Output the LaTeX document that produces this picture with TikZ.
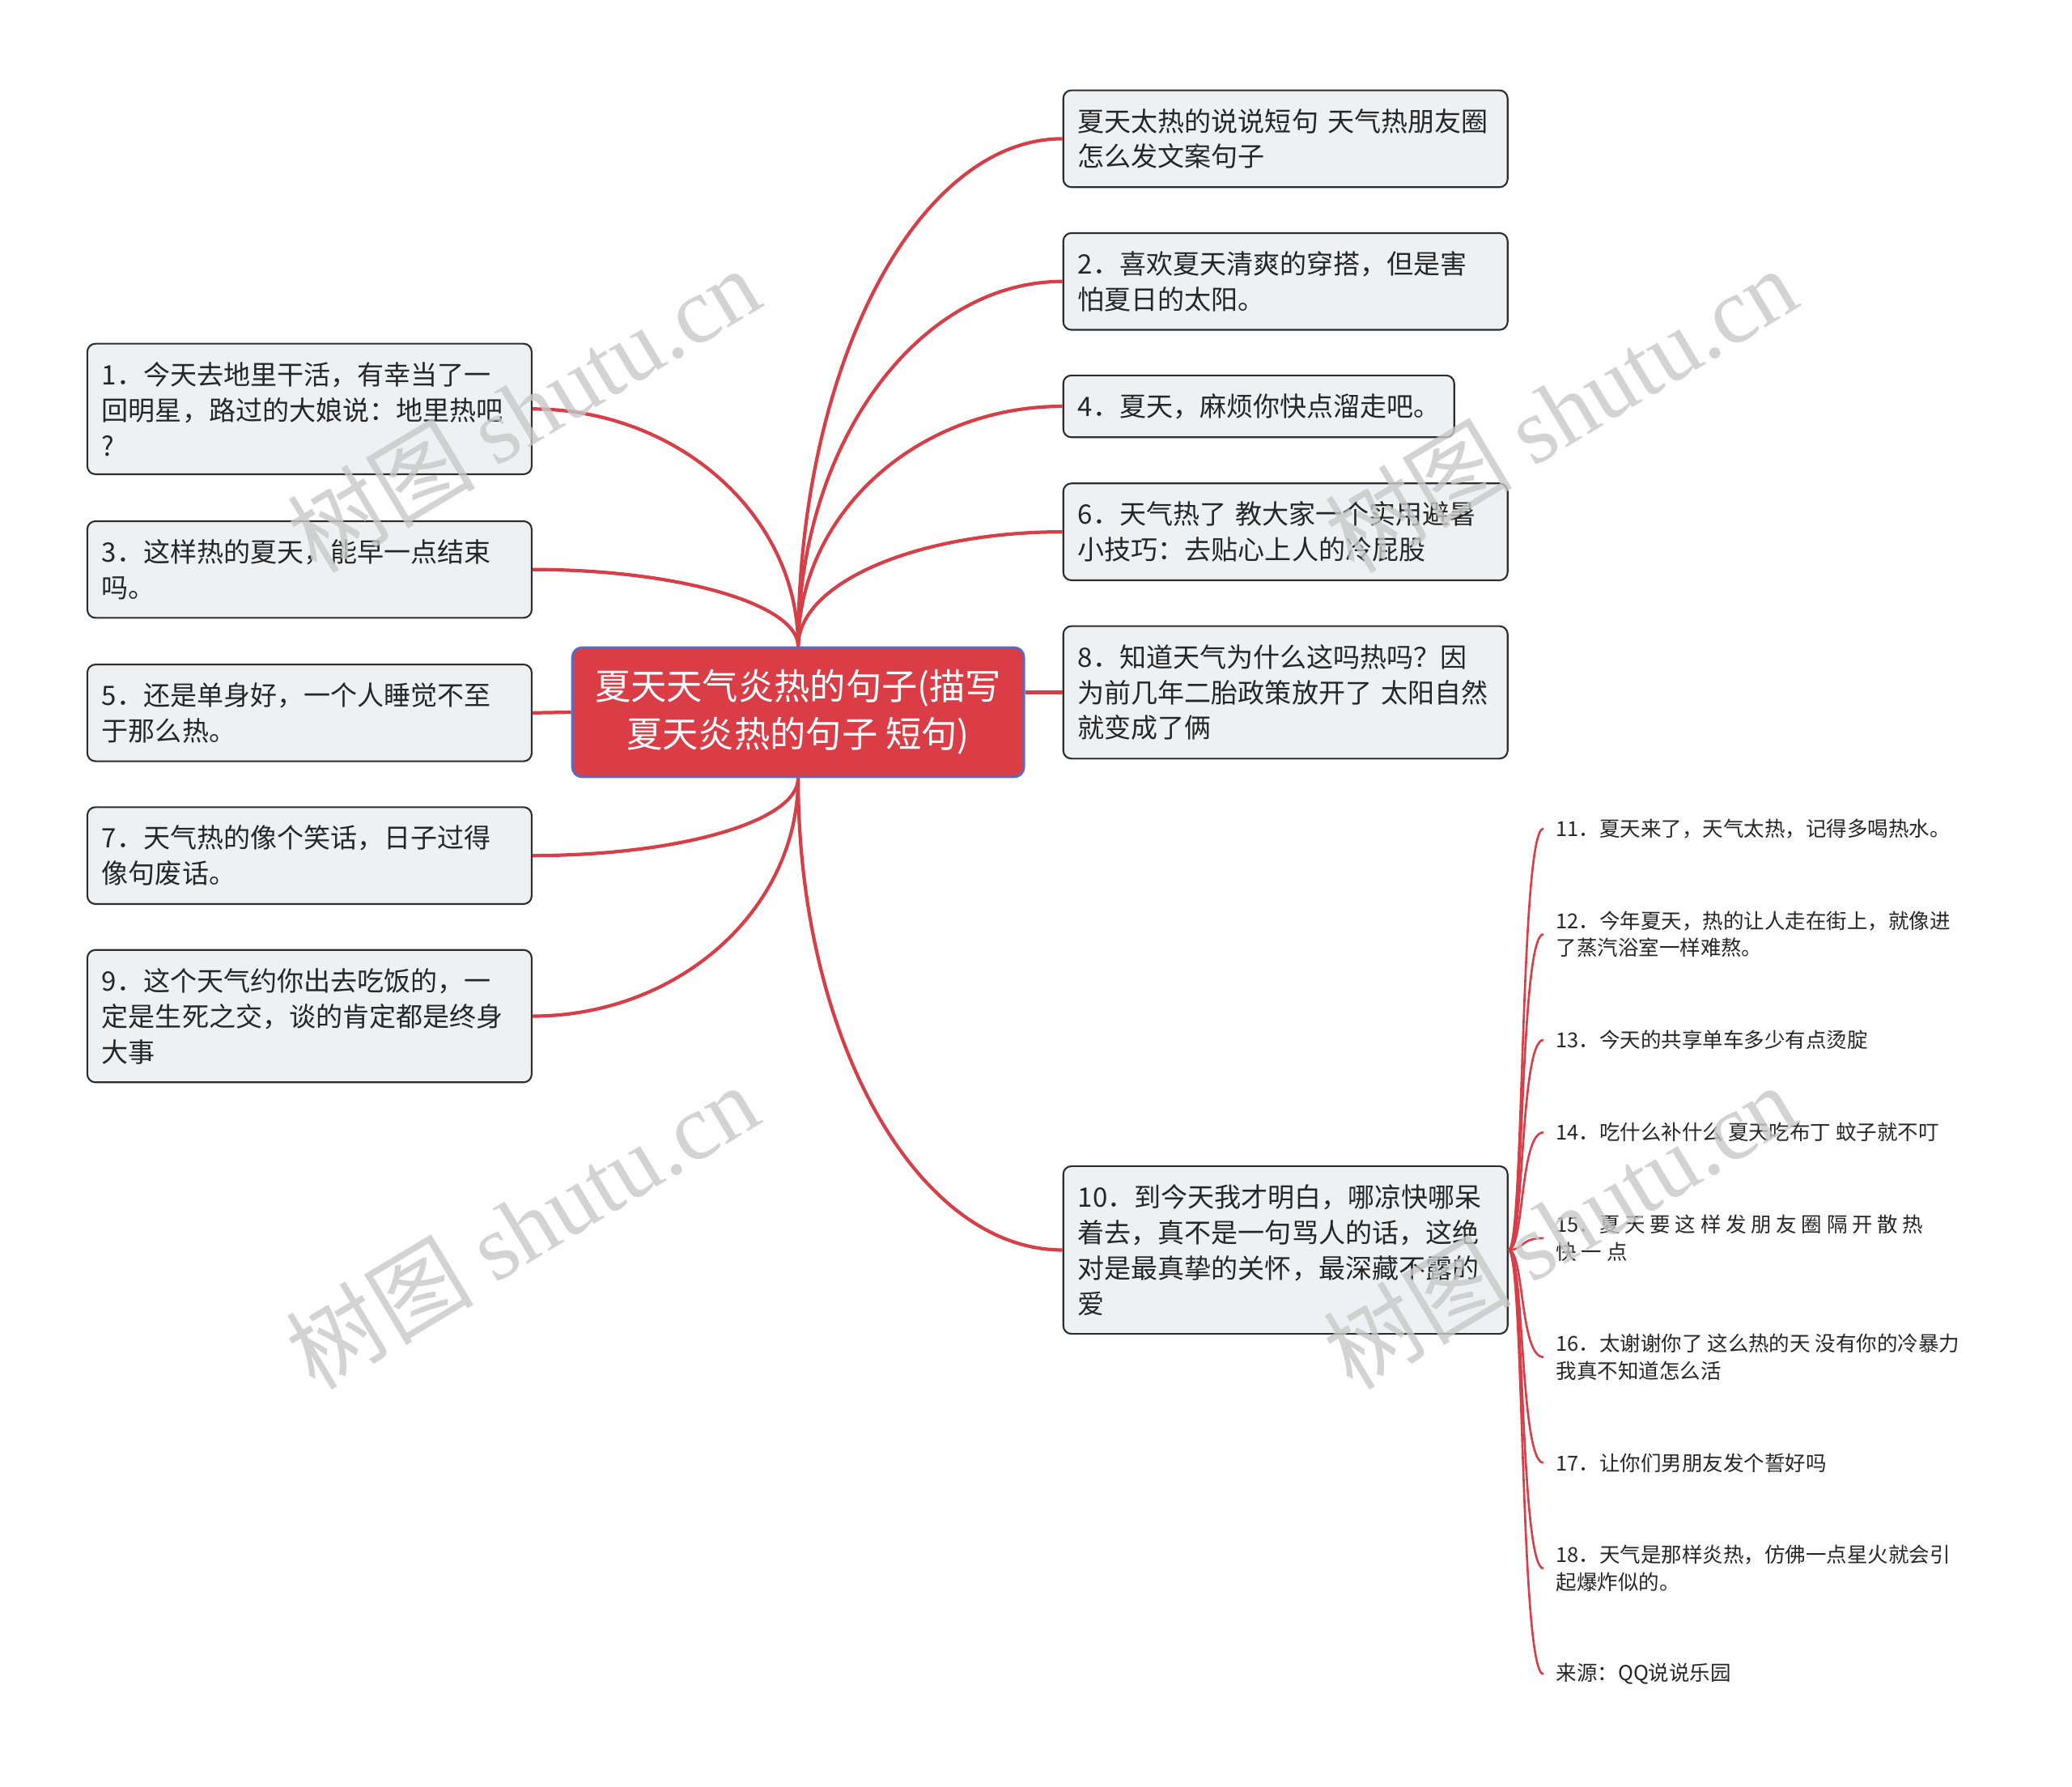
\documentclass[tikz,border=0pt]{standalone}
\usepackage{fontspec}
\setmainfont{Noto Sans CJK SC}
\newfontfamily\wmserif{Liberation Serif}
\usetikzlibrary{positioning, calc}
\definecolor{mapred}{RGB}{219,61,70}
\definecolor{mapblue}{RGB}{84,110,200}
\definecolor{boxfill}{RGB}{238,241,244}
\definecolor{boxline}{RGB}{45,45,45}
\definecolor{linkred}{RGB}{214,62,72}
\definecolor{wmgray}{RGB}{200,200,200}

\begin{document}
\begin{tikzpicture}[x=0.016327cm, y=-0.016327cm,
        root/.style={rectangle, rounded corners=0.12cm, draw=mapblue, line width=0.8pt, fill=mapred, text=white, minimum width=5.58cm, minimum height=1.6cm, align=center, font=\fontsize{12.6pt}{16.8pt}\selectfont},
        topic/.style={rectangle, rounded corners=0.1cm, draw=boxline, line width=0.6pt, fill=boxfill, text=black!85, text width=5.13cm, inner xsep=0.18cm, inner ysep=0.225cm, align=left, font=\fontsize{9.4pt}{12.5pt}\selectfont},
        leaf/.style={anchor=west, inner xsep=0.15cm, inner ysep=0pt, align=left, text=black!85, font=\fontsize{7.25pt}{9.5pt}\selectfont},
        branch/.style={draw=linkred, line width=1.2pt},
        twig/.style={draw=linkred, line width=0.75pt},
        wmark/.style={text=wmgray, opacity=0.8, rotate=31, font=\fontsize{33pt}{38pt}\selectfont}
    ]
        \useasboundingbox (0,0) rectangle (1568,1352);

        % central topic
        \node[root] (hub) at (604,539) {夏天天气炎热的句子(描写\\夏天炎热的句子 短句)};

        % right topics
        \node[topic, anchor=west] (r0) at (804,105) {夏天太热的说说短句 天气热朋友圈\\怎么发文案句子};
        \node[topic, anchor=west] (r2) at (804,213) {2．喜欢夏天清爽的穿搭，但是害\\怕夏日的太阳。};
        \node[topic, anchor=west, text width=4.47cm] (r4) at (804,307.5) {4．夏天，麻烦你快点溜走吧。};
        \node[topic, anchor=west] (r6) at (804,402.5) {6．天气热了 教大家一个实用避暑\\小技巧：去贴心上人的冷屁股};
        \node[topic, anchor=west] (r8) at (804,524) {8．知道天气为什么这吗热吗？因\\为前几年二胎政策放开了 太阳自然\\就变成了俩};
        \node[topic, anchor=west] (r10) at (804,946) {10．到今天我才明白，哪凉快哪呆\\着去，真不是一句骂人的话，这绝\\对是最真挚的关怀，最深藏不露的\\爱};

        % left topics
        \node[topic, anchor=east] (l1) at (403,309.5) {1．今天去地里干活，有幸当了一\\回明星，路过的大娘说：地里热吧\\?};
        \node[topic, anchor=east] (l3) at (403,431) {3．这样热的夏天，能早一点结束\\吗。};
        \node[topic, anchor=east] (l5) at (403,539.5) {5．还是单身好，一个人睡觉不至\\于那么热。};
        \node[topic, anchor=east] (l7) at (403,647.5) {7．天气热的像个笑话，日子过得\\像句废话。};
        \node[topic, anchor=east] (l9) at (403,769) {9．这个天气约你出去吃饭的，一\\定是生死之交，谈的肯定都是终身\\大事};

        % subtopics of 10
        \node[leaf] (t11) at (1168,627) {11．夏天来了，天气太热，记得多喝热水。};
        \node[leaf] (t12) at (1168,707) {12．今年夏天，热的让人走在街上，就像进\\了蒸汽浴室一样难熬。};
        \node[leaf] (t13) at (1168,787) {13．今天的共享单车多少有点烫腚};
        \node[leaf] (t14) at (1168,857) {14．吃什么补什么 夏天吃布丁 蚊子就不叮};
        \node[leaf] (t15) at (1168,937) {15．夏 天 要 这 样 发 朋 友 圈 隔 开 散 热\\快 一 点};
        \node[leaf] (t16) at (1168,1027) {16．太谢谢你了 这么热的天 没有你的冷暴力\\我真不知道怎么活};
        \node[leaf] (t17) at (1168,1107) {17．让你们男朋友发个誓好吗};
        \node[leaf] (t18) at (1168,1187) {18．天气是那样炎热，仿佛一点星火就会引\\起爆炸似的。};
        \node[leaf] (src) at (1168,1267) {来源：QQ说说乐园};

        % main branches
        \draw[branch] (hub.north) .. controls +(0,-212) and +(-110,0) .. (r0.west);
        \draw[branch] (hub.north) .. controls +(0,-152) and +(-110,0) .. (r2.west);
        \draw[branch] (hub.north) .. controls +(0,-100) and +(-110,0) .. (r4.west);
        \draw[branch] (hub.north) .. controls +(0,-48) and +(-110,0) .. (r6.west);
        \draw[branch] (hub.east |- r8.west) -- (r8.west);
        \draw[branch] (hub.south) .. controls +(0,197) and +(-110,0) .. (r10.west);
        \draw[branch] (hub.north) .. controls +(0,-99) and +(110,0) .. (l1.east);
        \draw[branch] (hub.north) .. controls +(0,-32) and +(110,0) .. (l3.east);
        \draw[branch] (hub.west) -- (l5.east);
        \draw[branch] (hub.south) .. controls +(0,33) and +(110,0) .. (l7.east);
        \draw[branch] (hub.south) .. controls +(0,100) and +(110,0) .. (l9.east);

        % twigs
        \draw[twig] (r10.east) .. controls +(12,0) and +(-18,0) .. (t11.west);
        \draw[twig] (r10.east) .. controls +(12,0) and +(-18,0) .. (t12.west);
        \draw[twig] (r10.east) .. controls +(12,0) and +(-18,0) .. (t13.west);
        \draw[twig] (r10.east) .. controls +(12,0) and +(-18,0) .. (t14.west);
        \draw[twig] (r10.east) .. controls +(12,0) and +(-18,0) .. (t15.west);
        \draw[twig] (r10.east) .. controls +(12,0) and +(-18,0) .. (t16.west);
        \draw[twig] (r10.east) .. controls +(12,0) and +(-18,0) .. (t17.west);
        \draw[twig] (r10.east) .. controls +(12,0) and +(-18,0) .. (t18.west);
        \draw[twig] (r10.east) .. controls +(12,0) and +(-18,0) .. (src.west);

        % watermarks
        \node[wmark] (wm1) at (396,310) {树图 {\wmserif shutu.cn}};
        \node[wmark] (wm2) at (1181,310) {树图 {\wmserif shutu.cn}};
        \node[wmark] (wm3) at (395,928) {树图 {\wmserif shutu.cn}};
        \node[wmark] (wm4) at (1180,928) {树图 {\wmserif shutu.cn}};
    \end{tikzpicture}
\end{document}
